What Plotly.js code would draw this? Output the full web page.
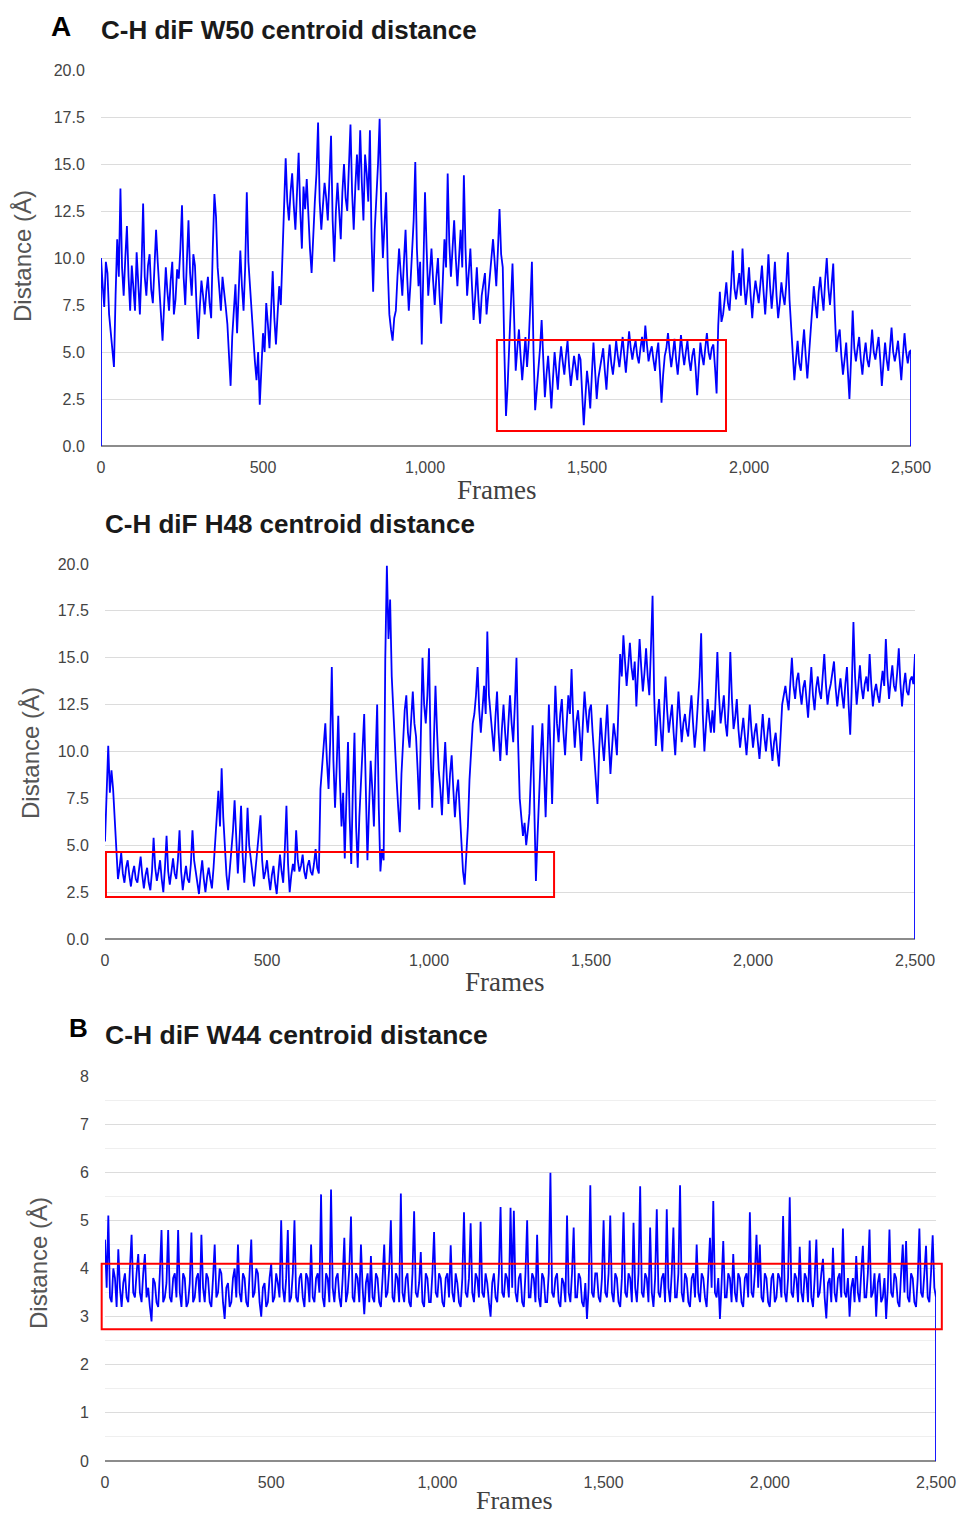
<!DOCTYPE html>
<html><head><meta charset="utf-8">
<script src="https://cdn.plot.ly/plotly-3.0.1.min.js"></script>
<style>html,body{margin:0;padding:0;background:#fff}#chart{width:960px;height:1517px}</style>
</head><body><div id="chart"></div>
<script>
// Sampling of the trajectories (frames between samples)
const frameStep = 5;
const lastFrame = 2500;

// Panel A: C-H diF W50 centroid distance (Å), one value per 5 frames, 0..2500
const w50Distance = [
  10.0, 8.6, 7.4, 9.8, 9.2, 7.0, 6.0, 5.0, 4.2, 8.0, 11.0, 9.0, 13.7, 9.5, 8.0, 10.0, 11.7, 9.0, 7.2, 9.6,
  8.5, 7.2, 10.3, 8.6, 7.0, 9.4, 12.9, 9.0, 8.0, 9.6, 10.2, 8.3, 7.6, 9.5, 11.5, 9.8, 8.6, 7.0, 5.6, 7.8,
  9.5, 8.2, 7.2, 8.8, 9.8, 7.0, 7.8, 9.4, 8.9, 10.5, 12.8, 9.0, 7.5, 9.8, 12.0, 9.2, 8.0, 10.2, 9.6, 7.4,
  5.7, 7.4, 8.8, 8.0, 7.0, 8.2, 9.0, 7.6, 6.8, 10.5, 13.4, 12.2, 9.5, 8.4, 7.2, 9.0, 8.3, 7.4, 6.5, 5.0,
  3.2, 5.8, 7.5, 8.6, 6.0, 8.0, 10.4, 8.5, 7.2, 9.5, 13.5, 9.8, 8.5, 6.6, 5.6, 4.5, 3.5, 5.0, 2.2, 4.5,
  6.0, 5.0, 7.6, 6.5, 5.2, 7.2, 9.3, 6.8, 5.4, 7.0, 8.5, 7.5, 10.5, 12.5, 15.3, 13.0, 12.0, 13.5, 14.5, 12.8,
  11.5, 13.5, 15.6, 12.5, 10.5, 13.8, 12.6, 14.2, 11.8, 10.5, 9.2, 11.5, 13.0, 14.5, 17.2, 13.0, 11.5, 12.8, 14.0, 13.2,
  12.0, 14.2, 16.5, 12.0, 9.8, 12.5, 14.0, 12.5, 11.0, 13.5, 15.0, 13.2, 12.5, 14.8, 17.1, 13.5, 11.5, 13.8, 15.5, 13.6,
  16.8, 14.0, 12.0, 15.5, 14.5, 13.0, 16.8, 11.0, 8.2, 11.5, 13.0, 15.0, 17.4, 12.5, 10.0, 12.0, 13.5, 9.5, 7.0, 6.2,
  5.6, 6.8, 7.2, 9.0, 10.5, 9.2, 8.0, 9.8, 11.5, 9.0, 7.2, 8.6, 10.0, 12.0, 15.1, 10.5, 8.5, 9.8, 5.4, 9.5,
  13.5, 10.5, 8.0, 9.2, 10.5, 8.8, 7.5, 9.0, 10.0, 8.0, 6.5, 8.8, 11.0, 9.5, 14.5, 10.8, 9.0, 10.5, 12.0, 10.0,
  8.5, 10.0, 11.5, 9.5, 14.4, 10.5, 8.0, 9.2, 10.5, 8.5, 6.7, 8.0, 9.5, 7.8, 6.5, 8.0, 8.5, 9.2, 7.0, 8.0,
  9.0, 10.0, 11.0, 9.8, 8.5, 10.4, 12.6, 10.2, 9.5, 5.0, 1.6, 3.2, 5.0, 7.5, 9.7, 6.0, 4.0, 5.2, 6.2, 4.8,
  3.5, 4.6, 5.8, 4.2, 5.5, 7.5, 9.8, 5.0, 1.9, 3.0, 4.0, 5.2, 6.7, 4.5, 2.6, 3.8, 4.8, 3.5, 2.0, 3.6,
  5.0, 4.0, 3.0, 4.4, 5.3, 4.5, 3.8, 4.8, 5.6, 4.2, 3.2, 4.0, 4.8, 4.2, 3.5, 4.9, 4.6, 2.8, 1.1, 2.6,
  4.0, 3.2, 2.0, 3.8, 5.5, 4.0, 2.5, 3.6, 4.2, 4.8, 5.2, 4.0, 3.0, 4.4, 5.4, 4.4, 3.8, 4.6, 5.6, 4.8,
  4.2, 5.0, 5.8, 4.8, 3.9, 5.0, 6.1, 5.2, 4.6, 5.2, 5.6, 4.8, 4.4, 5.2, 5.8, 5.0, 6.4, 5.4, 4.5, 5.0,
  5.3, 4.6, 4.0, 4.9, 5.5, 4.0, 2.3, 3.8, 4.8, 5.2, 6.0, 5.0, 4.2, 4.9, 5.7, 4.6, 3.8, 4.8, 5.9, 5.0,
  4.3, 5.0, 5.6, 4.6, 4.0, 4.8, 5.2, 4.2, 2.7, 4.2, 5.5, 4.8, 4.3, 5.2, 6.0, 5.0, 4.6, 5.2, 5.4, 4.2,
  2.8, 6.4, 8.2, 6.6, 7.0, 7.8, 8.7, 7.6, 7.2, 8.6, 10.4, 8.4, 7.8, 8.5, 9.2, 8.0, 10.5, 8.6, 7.5, 8.4,
  9.5, 8.0, 6.8, 8.0, 8.8, 8.2, 7.6, 8.6, 9.6, 8.2, 7.0, 8.4, 10.2, 8.5, 7.3, 8.4, 9.8, 8.0, 6.8, 7.6,
  8.7, 8.0, 7.5, 8.6, 10.3, 7.8, 6.2, 5.0, 3.5, 4.6, 5.6, 4.4, 4.0, 5.2, 6.2, 4.8, 3.6, 4.8, 6.0, 7.4,
  8.5, 7.6, 6.8, 8.2, 9.0, 8.0, 7.2, 8.8, 10.0, 8.4, 7.5, 8.6, 9.7, 7.0, 5.0, 5.8, 6.2, 4.8, 3.8, 4.6,
  5.5, 4.0, 2.5, 4.6, 7.2, 5.2, 4.5, 5.2, 5.8, 4.6, 3.8, 4.8, 5.5, 4.6, 4.2, 5.0, 6.2, 5.0, 4.6, 5.2,
  5.8, 4.6, 3.2, 4.4, 5.5, 4.6, 4.0, 5.2, 6.3, 5.0, 4.5, 5.0, 5.6, 4.6, 3.5, 4.8, 6.0, 5.0, 4.4, 5.0,
  5.1
];

// Second chart of A: C-H diF H48 centroid distance (Å), one value per 5 frames
const h48Distance = [
  5.2, 8.2, 10.3, 7.8, 9.0, 8.0, 6.5, 4.5, 3.2, 3.8, 4.6, 3.5, 3.0, 3.8, 4.2, 3.4, 2.8, 3.5, 3.9, 3.2,
  3.0, 3.7, 4.4, 3.4, 2.7, 3.4, 3.8, 3.0, 2.6, 3.6, 5.4, 3.8, 3.1, 3.6, 4.2, 3.2, 2.5, 3.8, 5.5, 3.6,
  2.9, 3.6, 4.3, 3.5, 3.2, 4.2, 5.8, 3.6, 2.6, 3.3, 3.9, 3.2, 3.0, 4.0, 5.8, 4.2, 3.5, 3.0, 2.4, 3.4,
  4.2, 3.2, 2.5, 3.3, 3.8, 3.2, 2.7, 3.8, 5.0, 6.2, 7.9, 6.0, 9.1, 6.5, 4.5, 3.4, 2.6, 3.6, 4.8, 5.8,
  7.4, 5.0, 3.5, 5.2, 7.1, 4.4, 3.0, 4.6, 7.0, 5.0, 4.2, 3.4, 2.8, 3.8, 4.8, 5.5, 6.6, 4.2, 3.2, 3.6,
  4.2, 3.3, 2.6, 3.4, 3.9, 3.0, 2.4, 3.5, 4.5, 3.6, 3.0, 4.8, 7.1, 4.0, 2.5, 3.4, 4.0, 3.6, 5.8, 4.2,
  3.6, 3.9, 4.5, 3.6, 3.2, 3.9, 4.2, 3.6, 3.4, 4.0, 4.8, 3.8, 3.5, 8.0, 9.3, 10.2, 11.5, 9.5, 8.0, 10.5,
  14.5, 9.5, 7.0, 9.2, 11.9, 8.5, 6.0, 7.8, 4.3, 7.5, 10.5, 6.5, 4.0, 8.0, 11.0, 6.0, 3.8, 6.5, 8.5, 10.0,
  12.0, 8.0, 4.2, 7.0, 9.5, 8.0, 6.0, 9.5, 12.5, 7.0, 3.6, 4.8, 4.2, 14.9, 19.9, 16.0, 18.1, 14.0, 12.0, 10.0,
  8.5, 7.0, 5.7, 8.8, 11.0, 12.2, 13.0, 11.0, 10.2, 12.0, 13.2, 11.5, 10.8, 9.0, 6.9, 11.0, 15.0, 12.5, 11.5, 13.0,
  15.5, 10.0, 7.0, 10.5, 13.5, 11.0, 9.0, 8.0, 6.6, 8.8, 10.5, 8.6, 7.2, 8.8, 9.8, 8.0, 6.5, 7.8, 8.5, 6.8,
  5.0, 3.6, 2.9, 4.2, 6.0, 8.5, 10.1, 11.5, 12.0, 13.0, 14.5, 12.2, 11.0, 12.5, 13.5, 12.0, 16.4, 13.0, 12.0, 11.0,
  10.0, 11.8, 13.2, 11.0, 9.5, 11.2, 12.5, 11.0, 9.8, 11.5, 13.0, 11.5, 10.5, 12.5, 15.0, 10.5, 7.5, 6.5, 5.5, 6.2,
  5.0, 5.8, 6.7, 9.0, 11.4, 7.0, 3.1, 5.5, 8.0, 9.8, 11.5, 9.0, 6.5, 9.5, 12.5, 10.0, 7.2, 10.5, 13.5, 11.5,
  10.5, 12.0, 12.8, 11.0, 9.8, 11.5, 13.0, 12.0, 14.4, 11.8, 10.2, 11.6, 12.2, 11.0, 9.5, 11.5, 13.2, 12.0, 11.0, 12.2,
  12.5, 11.0, 9.6, 8.5, 7.2, 10.0, 11.8, 10.5, 9.5, 11.0, 12.5, 10.5, 8.8, 10.2, 11.5, 10.8, 9.8, 12.5, 15.2, 14.0,
  16.2, 14.8, 13.5, 14.6, 15.8, 14.5, 13.8, 14.8, 12.4, 14.2, 16.0, 14.5, 13.2, 14.2, 15.5, 14.0, 13.0, 15.5, 18.3, 13.0,
  10.3, 11.8, 12.8, 11.2, 10.0, 12.0, 14.0, 12.2, 11.0, 11.8, 12.5, 11.0, 9.8, 11.5, 13.2, 11.8, 10.5, 11.5, 12.0, 11.2,
  10.8, 12.0, 13.0, 11.5, 10.2, 11.2, 12.5, 14.0, 16.3, 12.0, 10.0, 11.5, 12.8, 11.8, 11.0, 12.2, 11.0, 13.0, 15.3, 13.0,
  11.5, 12.2, 13.0, 11.5, 10.8, 12.5, 15.3, 12.8, 11.2, 11.8, 12.8, 11.2, 10.2, 11.0, 11.8, 10.8, 9.8, 11.0, 12.5, 11.2,
  10.2, 11.0, 11.5, 10.5, 9.6, 10.8, 12.0, 10.8, 10.0, 11.0, 11.8, 10.5, 9.5, 10.5, 11.0, 10.0, 9.2, 10.8, 12.5, 13.0,
  13.5, 12.8, 12.2, 13.6, 15.0, 13.5, 12.8, 13.8, 14.2, 13.2, 12.5, 13.4, 13.8, 12.8, 11.8, 13.2, 14.5, 13.0, 12.2, 13.4,
  14.0, 13.2, 12.8, 14.0, 15.2, 13.6, 12.5, 13.2, 13.6, 14.2, 14.8, 13.4, 12.4, 13.2, 13.9, 13.0, 12.3, 13.6, 14.5, 12.5,
  10.9, 13.5, 16.9, 14.0, 12.5, 13.5, 14.6, 13.4, 12.8, 13.6, 14.0, 13.2, 15.2, 13.6, 12.4, 13.2, 13.6, 13.0, 12.6, 13.5,
  14.3, 13.5, 16.0, 14.0, 12.8, 13.8, 14.6, 13.5, 13.2, 14.2, 15.5, 13.6, 12.4, 13.5, 14.2, 13.2, 13.0, 13.8, 14.0, 13.6,
  15.2
];

// Panel B: C-H diF W44 centroid distance (Å), one value per 5 frames
const w44Distance = [
  4.6, 3.6, 5.1, 3.4, 3.3, 4.0, 3.8, 3.2, 4.4, 3.6, 3.2, 3.7, 3.9, 3.4, 3.3, 3.9, 4.7, 3.5, 3.4, 3.9,
  4.3, 3.5, 3.3, 3.9, 4.3, 3.4, 3.6, 3.2, 2.9, 3.8, 3.7, 3.3, 3.2, 3.9, 4.8, 3.3, 3.4, 3.7, 4.8, 3.4,
  3.3, 3.8, 3.9, 3.4, 4.8, 3.5, 3.2, 3.9, 3.8, 3.2, 3.3, 3.7, 4.75, 3.3, 3.4, 3.8, 3.9, 3.3, 4.7, 3.6,
  3.3, 3.9, 3.8, 3.3, 3.2, 3.8, 4.5, 3.4, 3.5, 4.0, 3.9, 3.3, 2.95, 3.6, 3.7, 3.2, 3.3, 3.8, 4.0, 3.4,
  4.5, 3.5, 3.3, 3.9, 3.8, 3.3, 3.2, 3.9, 4.6, 3.4, 3.5, 4.0, 3.9, 3.3, 3.0, 3.6, 3.7, 3.2, 3.3, 3.8,
  4.1, 3.3, 3.4, 3.9, 3.7, 3.4, 5.0, 3.6, 3.3, 3.8, 4.8, 3.3, 3.4, 3.9, 5.0, 3.4, 3.3, 3.8, 3.9, 3.4,
  3.2, 3.9, 3.8, 3.3, 4.5, 3.4, 3.3, 3.8, 3.9, 3.5, 5.54, 3.4, 3.2, 3.9, 3.8, 3.3, 5.64, 3.6, 3.3, 3.8,
  3.9, 3.4, 3.2, 3.8, 4.64, 3.3, 3.5, 4.0, 5.08, 3.4, 3.3, 3.9, 3.8, 3.3, 4.5, 3.6, 3.05, 3.7, 3.9, 3.3,
  4.26, 3.4, 3.3, 3.9, 3.8, 3.3, 3.2, 3.8, 4.5, 3.4, 3.5, 4.0, 5.0, 3.4, 3.3, 3.9, 3.8, 3.3, 5.56, 3.5,
  3.3, 3.8, 3.9, 3.3, 3.2, 3.9, 5.19, 3.5, 3.4, 3.7, 4.34, 3.3, 3.2, 3.9, 3.8, 3.3, 3.3, 3.9, 4.76, 3.5,
  3.4, 3.9, 3.8, 3.3, 3.2, 3.8, 3.9, 3.4, 4.48, 3.5, 3.3, 3.9, 3.7, 3.3, 3.2, 3.8, 5.17, 3.5, 3.4, 3.8,
  4.94, 3.5, 3.3, 3.9, 3.8, 3.4, 4.97, 3.5, 3.4, 3.9, 3.7, 3.3, 3.0, 3.7, 3.9, 3.4, 3.3, 3.9, 5.28, 3.5,
  3.4, 3.9, 3.8, 3.4, 5.26, 3.6, 5.2, 3.5, 3.3, 3.8, 3.9, 3.3, 3.2, 3.9, 5.0, 3.4, 3.4, 3.9, 3.8, 3.3,
  4.7, 3.4, 3.2, 3.9, 3.8, 3.3, 3.3, 3.9, 5.99, 3.5, 3.4, 3.8, 3.9, 3.3, 3.2, 3.8, 3.7, 3.3, 5.1, 3.5,
  3.3, 3.9, 4.85, 3.4, 3.4, 3.9, 3.8, 3.3, 3.2, 3.7, 2.95, 3.6, 5.73, 3.5, 3.4, 3.9, 3.9, 3.4, 3.3, 3.8,
  5.0, 3.5, 3.4, 3.9, 5.1, 3.5, 3.3, 3.9, 3.8, 3.3, 3.2, 3.8, 5.17, 3.5, 3.4, 3.9, 3.8, 3.3, 4.95, 3.6,
  3.3, 3.9, 5.71, 3.5, 3.4, 3.9, 3.8, 3.3, 4.85, 3.5, 3.2, 3.8, 5.23, 3.5, 3.4, 3.8, 3.9, 3.3, 5.23, 3.6,
  3.3, 3.9, 4.85, 3.4, 3.4, 3.9, 5.73, 3.5, 3.3, 3.9, 3.8, 3.3, 3.2, 3.8, 3.9, 3.4, 4.5, 3.5, 3.3, 3.9,
  3.8, 3.4, 3.2, 3.9, 4.64, 3.6, 5.4, 3.5, 3.4, 3.8, 2.95, 3.7, 4.57, 3.4, 3.4, 3.9, 3.8, 3.3, 4.3, 3.5,
  3.3, 3.9, 3.8, 3.3, 3.2, 3.8, 3.9, 3.4, 5.17, 3.5, 3.4, 3.9, 4.7, 3.6, 4.5, 3.4, 3.3, 3.9, 3.8, 3.3,
  3.2, 3.8, 3.9, 3.3, 3.4, 3.9, 3.8, 3.4, 5.09, 3.5, 3.3, 3.8, 5.48, 3.5, 3.4, 3.9, 3.8, 3.3, 4.45, 3.5,
  3.3, 3.9, 3.8, 3.3, 4.58, 3.4, 3.2, 3.8, 4.6, 3.4, 3.5, 3.9, 4.2, 3.4, 2.96, 3.7, 3.8, 3.3, 4.43, 3.5,
  3.3, 3.8, 3.9, 3.4, 4.83, 3.5, 3.4, 3.8, 3.0, 3.6, 3.8, 3.3, 4.26, 3.5, 3.3, 3.9, 4.47, 3.4, 3.4, 3.9,
  4.81, 3.4, 3.5, 3.9, 3.0, 3.7, 3.9, 3.3, 3.4, 3.8, 2.95, 3.6, 4.81, 3.5, 3.4, 3.9, 3.8, 3.3, 3.2, 3.9,
  4.5, 3.5, 4.57, 3.4, 3.3, 3.9, 3.8, 3.3, 3.2, 3.8, 4.83, 3.5, 3.4, 3.9, 4.47, 3.4, 3.3, 3.9, 4.69, 3.6,
  3.4
];

// Values the traces drop to at their ends
const w50StartValue = 0;
const endDropValue = 0;

// Highlighted regions (frames, Å)
const boxA = {frames: [1222, 1929], dist: [0.8, 5.64]};
const boxH48 = {frames: [3, 1386], dist: [2.24, 4.64]};
const boxB = {dist: [2.74, 4.1]};

const titles = ["C-H diF W50 centroid distance", "C-H diF H48 centroid distance", "C-H diF W44 centroid distance"];
const panelLetters = ["A", "B"];
const xTitle = "Frames";
const yTitle = "Distance (Å)";

function framesOf(values) {
  return values.map((_, i) => i * frameStep);
}

const fA = framesOf(w50Distance);
const fH = framesOf(h48Distance);
const fB = framesOf(w44Distance);

const lineStyle = {color: '#0000ff', width: 1.8};

const traces = [
  {x: [0].concat(fA, [lastFrame]), y: [w50StartValue].concat(w50Distance, [endDropValue]),
   xaxis: 'x', yaxis: 'y', mode: 'lines', line: lineStyle, type: 'scatter'},
  {x: fH.concat([lastFrame]), y: h48Distance.concat([endDropValue]),
   xaxis: 'x2', yaxis: 'y2', mode: 'lines', line: lineStyle, type: 'scatter'},
  {x: fB.concat([lastFrame]), y: w44Distance.concat([endDropValue]),
   xaxis: 'x3', yaxis: 'y3', mode: 'lines', line: lineStyle, type: 'scatter'}
];

const W = 960, H = 1517;
const px = x => x / W;
const py = y => 1 - y / H;

const tickFont = {family: 'Liberation Sans, Arial, sans-serif', size: 16, color: '#444'};

function xAxis(domain, anchor) {
  return {
    domain: domain, anchor: anchor, range: [0, lastFrame], dtick: 500, tickformat: ',d',
    showgrid: false, zeroline: false, showline: false,
    ticks: 'outside', ticklen: 7, tickcolor: 'rgba(0,0,0,0)',
    tickfont: tickFont, fixedrange: true
  };
}
function yAxis(domain, anchor, range, dtick, fmt) {
  return {
    domain: domain, anchor: anchor, range: range, dtick: dtick, tickformat: fmt,
    showgrid: true, gridcolor: '#dcdcdc', gridwidth: 1,
    zeroline: true, zerolinecolor: '#8c8c8c', zerolinewidth: 1.5,
    showline: false, ticks: 'outside', ticklen: 12, tickcolor: 'rgba(0,0,0,0)',
    tickfont: tickFont, fixedrange: true
  };
}

const yB = yAxis([py(1461), py(1076)], 'x3', [0, 8], 1, 'd');
yB.minor = {dtick: 0.5, showgrid: true, gridcolor: '#efefef', gridwidth: 1, ticks: ''};

const titleFont = {family: 'Liberation Sans, Arial, sans-serif', size: 26, color: '#1a1a1a'};
const letterFont = {family: 'Liberation Sans, Arial, sans-serif', size: 28, color: '#000'};
const xTitleFont = {family: 'Liberation Serif, Times New Roman, serif', size: 27, color: '#404040'};
const yTitleFont = {family: 'Liberation Sans, Arial, sans-serif', size: 24, color: '#555'};

function ann(text, x, y, font, opts) {
  return Object.assign({text: text, x: px(x), y: py(y), xref: 'paper', yref: 'paper',
    showarrow: false, font: font, xanchor: 'center', yanchor: 'middle'}, opts || {});
}

const annotations = [
  ann('<b>' + panelLetters[0] + '</b>', 61, 27, letterFont),
  ann('<b>' + titles[0] + '</b>', 99, 30, titleFont, {xanchor: 'left'}),
  ann(xTitle, 496, 490, xTitleFont),
  ann(yTitle, 22, 256, yTitleFont, {textangle: -90}),
  ann('<b>' + titles[1] + '</b>', 103, 524, titleFont, {xanchor: 'left'}),
  ann(xTitle, 505, 982, xTitleFont),
  ann(yTitle, 30, 753, yTitleFont, {textangle: -90}),
  ann('<b>' + panelLetters[1] + '</b>', 78, 1028, Object.assign({}, letterFont, {size: 26})),
  ann('<b>' + titles[2] + '</b>', 103, 1035, Object.assign({}, titleFont, {size: 26.5}), {xanchor: 'left'}),
  ann(xTitle, 514, 1500, Object.assign({}, xTitleFont, {size: 26})),
  ann(yTitle, 38, 1263, yTitleFont, {textangle: -90})
];

const boxLine = {color: '#ff0000', width: 2};
const shapes = [
  {type: 'rect', xref: 'x', yref: 'y', x0: boxA.frames[0], x1: boxA.frames[1], y0: boxA.dist[0], y1: boxA.dist[1], line: boxLine, layer: 'above'},
  {type: 'rect', xref: 'x2', yref: 'y2', x0: boxH48.frames[0], x1: boxH48.frames[1], y0: boxH48.dist[0], y1: boxH48.dist[1], line: boxLine, layer: 'above'},
  {type: 'rect', xref: 'x3 domain', yref: 'y3', x0: -0.004, x1: 1.007, y0: boxB.dist[0], y1: boxB.dist[1], line: boxLine, layer: 'above'}
];

const layout = {
  width: W, height: H, margin: {l: 0, r: 0, t: 0, b: 0},
  paper_bgcolor: '#fff', plot_bgcolor: '#fff', showlegend: false, hovermode: false,
  xaxis: xAxis([px(101), px(911)], 'y'),
  yaxis: yAxis([py(446), py(70)], 'x', [0, 20], 2.5, '.1f'),
  xaxis2: xAxis([px(105), px(915)], 'y2'),
  yaxis2: yAxis([py(939), py(564)], 'x2', [0, 20], 2.5, '.1f'),
  xaxis3: xAxis([px(105), px(936)], 'y3'),
  yaxis3: yB,
  annotations: annotations,
  shapes: shapes
};

Plotly.newPlot('chart', traces, layout, {staticPlot: true, displayModeBar: false});
</script>
</body></html>
